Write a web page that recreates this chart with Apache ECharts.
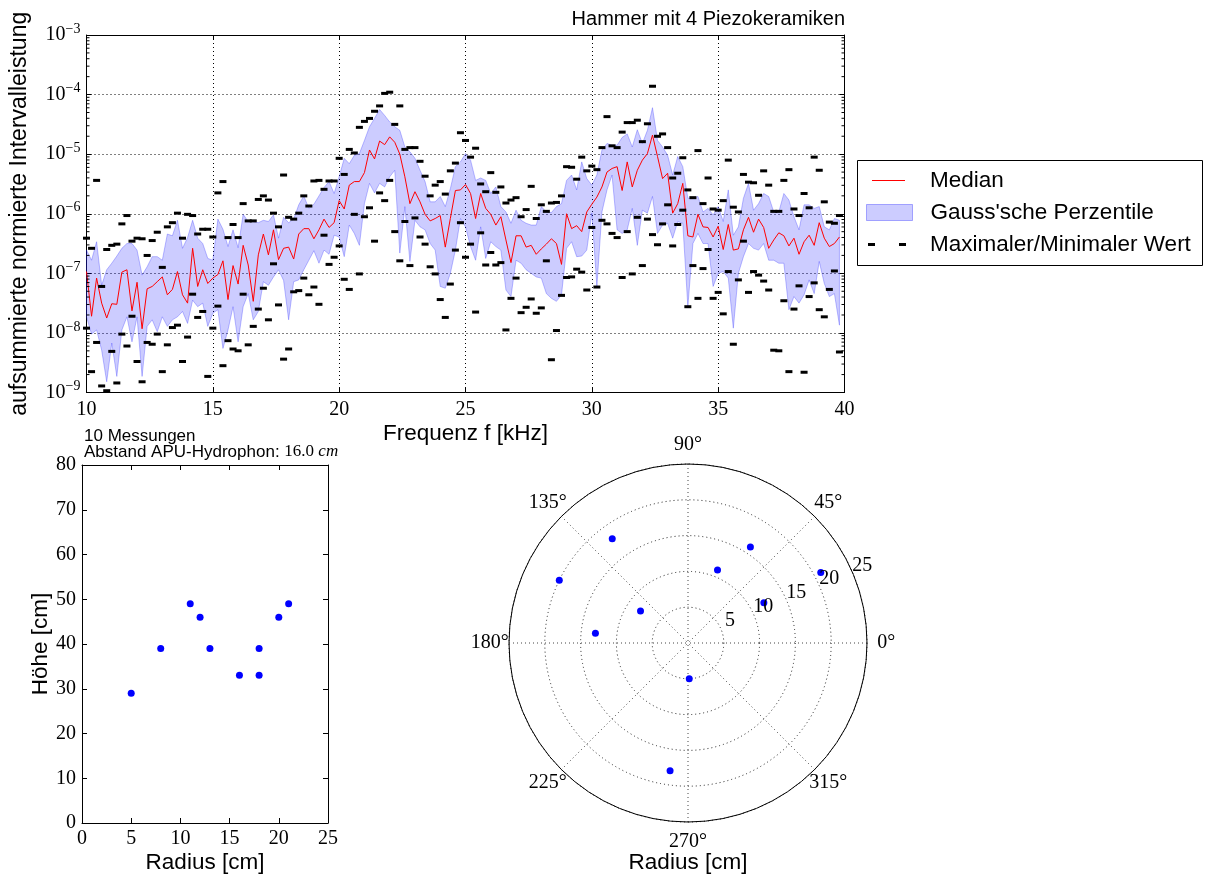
<!DOCTYPE html>
<html>
<head>
<meta charset="utf-8">
<title>Hammer mit 4 Piezokeramiken</title>
<script src="https://cdn.jsdelivr.net/npm/echarts@6.0.0/dist/echarts.min.js"></script>
<style>
  html, body { margin: 0; padding: 0; background: #fff; }
  #chart { width: 1205px; height: 880px; }
</style>
</head>
<body>
<div id="chart"></div>
<script>
const SANS = 'Liberation Sans';
const SERIF = 'Liberation Serif';

// frequency grid of the spectrum [kHz]
const freqKHz = [
  10.0, 10.2, 10.4, 10.6, 10.8, 11.0, 11.2, 11.4, 11.6, 11.8,
  12.0, 12.2, 12.4, 12.6, 12.8, 13.0, 13.2, 13.4, 13.6, 13.8,
  14.0, 14.2, 14.4, 14.6, 14.8, 15.0, 15.2, 15.4, 15.6, 15.8,
  16.0, 16.2, 16.4, 16.6, 16.8, 17.0, 17.2, 17.4, 17.6, 17.8,
  18.0, 18.2, 18.4, 18.6, 18.8, 19.0, 19.2, 19.4, 19.6, 19.8,
  20.0, 20.2, 20.4, 20.6, 20.8, 21.0, 21.2, 21.4, 21.6, 21.8,
  22.0, 22.2, 22.4, 22.6, 22.8, 23.0, 23.2, 23.4, 23.6, 23.8,
  24.0, 24.2, 24.4, 24.6, 24.8, 25.0, 25.2, 25.4, 25.6, 25.8,
  26.0, 26.2, 26.4, 26.6, 26.8, 27.0, 27.2, 27.4, 27.6, 27.8,
  28.0, 28.2, 28.4, 28.6, 28.8, 29.0, 29.2, 29.4, 29.6, 29.8,
  30.0, 30.2, 30.4, 30.6, 30.8, 31.0, 31.2, 31.4, 31.6, 31.8,
  32.0, 32.2, 32.4, 32.6, 32.8, 33.0, 33.2, 33.4, 33.6, 33.8,
  34.0, 34.2, 34.4, 34.6, 34.8, 35.0, 35.2, 35.4, 35.6, 35.8,
  36.0, 36.2, 36.4, 36.6, 36.8, 37.0, 37.2, 37.4, 37.6, 37.8,
  38.0, 38.2, 38.4, 38.6, 38.8, 39.0, 39.2, 39.4, 39.6, 39.8
];

// all power values as log10 (the axis shows 10^n)
const medianLog = [
  -6.97, -7.72, -7.08, -7.50, -7.75, -7.51, -7.52, -6.98, -6.94, -7.63,
  -7.15, -7.93, -7.26, -7.22, -7.14, -7.06, -7.36, -7.27, -6.97, -7.36,
  -7.50, -6.58, -7.22, -6.94, -7.17, -7.08, -7.02, -6.79, -7.44, -6.87,
  -7.18, -6.53, -6.86, -7.47, -6.69, -6.34, -6.69, -6.27, -6.77, -6.58,
  -6.56, -6.76, -6.34, -6.25, -6.25, -6.42, -6.27, -6.09, -6.23, -6.15,
  -5.78, -5.92, -5.52, -5.46, -5.46, -5.31, -4.93, -5.08, -4.78, -4.84,
  -4.71, -4.80, -5.00, -5.38, -5.83, -5.63, -5.80, -6.01, -6.12, -6.08,
  -6.03, -6.56, -6.08, -5.61, -5.60, -5.51, -5.66, -6.08, -5.66, -5.91,
  -6.01, -6.19, -6.05, -6.44, -6.82, -6.37, -6.37, -6.56, -6.53, -6.68,
  -6.59, -6.51, -6.42, -6.50, -6.85, -6.00, -6.25, -6.20, -6.30, -5.97,
  -5.84, -5.72, -5.55, -5.30, -5.24, -5.21, -5.61, -5.13, -5.55, -5.27,
  -5.10, -4.99, -4.68, -5.04, -5.41, -5.32, -5.99, -5.83, -5.49, -6.37,
  -6.39, -6.01, -6.22, -6.23, -6.39, -6.21, -6.60, -6.18, -6.61, -6.59,
  -6.27, -6.06, -6.31, -6.09, -6.23, -6.58, -6.44, -6.32, -6.37, -6.54,
  -6.41, -6.68, -6.47, -6.36, -6.53, -6.15, -6.41, -6.55, -6.50, -6.39
];

const bandUpperLog = [
  -6.61, -6.78, -6.47, -7.20, -6.94, -6.83, -6.71, -6.58, -6.50, -6.50,
  -6.61, -7.03, -6.89, -6.72, -6.72, -6.78, -6.34, -6.37, -6.11, -6.58,
  -6.40, -6.11, -6.41, -6.50, -6.75, -6.78, -6.09, -6.26, -6.55, -6.27,
  -6.57, -6.01, -6.13, -6.13, -6.15, -6.11, -6.13, -6.02, -6.41, -6.06,
  -6.15, -6.09, -5.85, -5.70, -5.91, -5.84, -5.70, -5.56, -5.46, -5.66,
  -5.38, -5.07, -5.16, -5.02, -4.99, -4.77, -4.54, -4.40, -4.25, -4.35,
  -4.46, -4.54, -4.60, -4.88, -4.96, -5.07, -5.27, -5.46, -5.80, -5.80,
  -5.71, -5.88, -5.58, -5.21, -5.13, -4.99, -5.10, -5.44, -5.40, -5.44,
  -5.66, -5.55, -5.88, -5.97, -6.16, -5.94, -6.11, -6.16, -6.19, -6.19,
  -5.88, -5.97, -5.98, -5.88, -5.83, -5.44, -5.35, -5.60, -5.13, -5.41,
  -5.52, -5.35, -4.93, -4.82, -4.85, -4.85, -4.72, -4.66, -4.88, -4.59,
  -4.82, -4.60, -4.22, -4.77, -4.88, -5.02, -5.35, -5.04, -5.21, -5.74,
  -5.74, -5.71, -5.97, -5.91, -6.02, -5.88, -6.13, -5.60, -6.36, -6.22,
  -5.74, -5.49, -5.94, -5.83, -5.66, -5.71, -5.97, -5.97, -5.66, -5.77,
  -6.05, -6.27, -5.85, -5.85, -5.91, -5.88, -6.22, -6.27, -6.08, -6.11
];

const bandLowerLog = [
  -7.73, -8.02, -7.95, -8.29, -8.82, -8.17, -8.73, -7.95, -7.73, -8.15,
  -7.73, -8.73, -7.89, -7.78, -7.98, -7.73, -7.89, -7.78, -7.73, -7.64,
  -7.84, -7.45, -7.56, -7.50, -7.89, -7.67, -7.61, -8.26, -7.95, -7.56,
  -8.15, -7.56, -7.34, -7.78, -7.64, -7.14, -7.20, -7.06, -6.94, -7.12,
  -7.78, -7.14, -7.11, -6.94, -6.78, -6.62, -6.83, -6.61, -6.68, -6.36,
  -6.39, -6.72, -6.19, -6.33, -6.53, -5.83, -5.49, -5.65, -5.49, -5.55,
  -5.38, -5.27, -6.66, -5.88, -6.80, -6.11, -6.22, -6.27, -6.50, -6.61,
  -7.22, -7.25, -7.00, -6.61, -6.08, -6.22, -6.55, -6.78, -6.22, -6.75,
  -6.47, -6.55, -6.61, -7.28, -7.39, -6.78, -6.83, -6.94, -7.00, -7.06,
  -7.08, -7.34, -7.42, -7.47, -7.36, -6.58, -6.47, -6.72, -6.71, -6.61,
  -5.99, -7.22, -5.97, -5.60, -5.35, -6.27, -6.33, -6.27, -5.91, -6.53,
  -5.94, -5.99, -5.71, -6.33, -6.19, -6.16, -6.41, -6.13, -6.16, -7.56,
  -6.50, -6.33, -6.50, -6.50, -7.22, -7.00, -6.97, -7.08, -7.92, -7.00,
  -6.72, -6.50, -6.58, -6.61, -6.50, -6.78, -6.78, -6.83, -6.83, -7.61,
  -7.39, -7.50, -7.36, -7.11, -7.34, -6.80, -7.17, -7.39, -7.34, -7.87
];

const maxLog = [
  -6.41, -6.58, -5.44, -7.22, -6.60, -6.53, -6.51, -6.17, -6.03, -6.46,
  -6.41, -6.42, -6.70, -6.45, -6.31, -6.90, -6.22, -6.15, -5.99, -6.41,
  -6.01, -6.03, -6.34, -6.26, -6.26, -6.39, -5.65, -5.46, -6.40, -6.18,
  -6.40, -5.83, -6.12, -6.12, -5.76, -5.70, -5.77, -5.99, -6.22, -5.35,
  -6.06, -6.09, -5.99, -5.70, -5.87, -5.45, -5.44, -5.59, -5.45, -5.45,
  -5.07, -5.34, -4.92, -4.98, -4.55, -4.45, -4.40, -4.28, -4.19, -3.98,
  -3.96, -4.50, -4.19, -4.92, -4.89, -4.89, -5.12, -5.37, -5.70, -5.52,
  -5.46, -5.67, -5.28, -5.15, -4.64, -4.77, -5.05, -4.90, -5.50, -5.63,
  -5.31, -5.64, -5.55, -5.82, -5.77, -5.73, -6.05, -5.93, -5.54, -6.08,
  -5.85, -5.96, -5.82, -5.81, -5.70, -5.21, -5.22, -5.42, -5.05, -5.28,
  -5.20, -5.26, -4.89, -4.37, -4.86, -4.89, -4.63, -4.47, -4.47, -4.43,
  -4.79, -4.49, -3.86, -4.70, -4.66, -4.89, -5.40, -5.32, -5.06, -5.60,
  -5.73, -4.94, -5.83, -5.40, -5.92, -5.94, -5.78, -5.10, -5.89, -5.97,
  -5.34, -5.47, -5.48, -5.69, -5.28, -5.52, -5.96, -5.96, -5.44, -5.26,
  -5.92, -6.03, -5.66, -5.90, -5.05, -5.27, -5.80, -6.14, -6.16, -6.03
];

const minLog = [
  -7.92, -8.65, -8.16, -8.89, -8.97, -8.31, -8.84, -8.02, -8.22, -7.72,
  -8.48, -8.82, -8.16, -8.19, -8.02, -8.65, -8.20, -7.91, -7.87, -8.48,
  -8.07, -7.35, -7.74, -7.64, -8.73, -7.92, -7.55, -8.55, -8.13, -8.27,
  -8.30, -7.35, -8.20, -7.89, -7.60, -7.25, -7.78, -6.84, -7.53, -8.44,
  -8.27, -7.31, -7.29, -7.08, -7.36, -7.23, -7.52, -6.36, -6.85, -6.73,
  -6.54, -7.10, -7.27, -6.01, -7.01, -6.05, -5.90, -6.46, -5.65, -5.78,
  -5.44, -6.30, -6.79, -6.13, -6.87, -6.07, -6.39, -6.51, -6.89, -7.01,
  -7.44, -7.74, -7.18, -6.61, -6.15, -6.73, -6.51, -7.65, -6.32, -6.86,
  -6.65, -6.86, -6.82, -7.95, -7.42, -7.08, -7.66, -7.57, -7.43, -7.67,
  -7.58, -6.79, -8.45, -7.96, -7.37, -7.07, -7.06, -6.93, -6.98, -7.28,
  -6.23, -7.23, -6.11, -6.17, -6.33, -6.40, -7.07, -6.30, -7.01, -6.06,
  -6.87, -6.09, -6.35, -6.52, -6.17, -5.85, -6.54, -6.18, -5.94, -7.56,
  -6.87, -7.42, -6.92, -6.60, -7.42, -7.32, -7.68, -6.97, -8.19, -7.11,
  -6.46, -7.32, -6.97, -7.03, -7.13, -7.28, -8.29, -8.30, -7.46, -8.65,
  -7.60, -7.21, -8.66, -7.39, -7.16, -7.61, -7.73, -7.27, -6.96, -8.32
];

// measurement positions
const posRadius = [5, 8, 11, 12, 13, 16, 18, 18, 20, 21];
const posHeight = [29, 39, 49, 46, 39, 33, 39, 33, 46, 49];
const posAngle = [272, 146, 68, 28, 174, 57, 126, 262, 154, 28];

// tick labels
const decades = [-9, -8, -7, -6, -5, -4];
const minorMultiples = [2, 3, 4, 5, 6, 7, 8, 9];
const radialTicks = [5, 10, 15, 20, 25];
const radialLabelAngle = 22.5;
const angleTicks = [0, 45, 90, 135, 180, 225, 270, 315];
const angleLabelRadius = 27.7; // just outside the outer circle (r = 25)

const pairs = ys => freqKHz.map((f, i) => [f, ys[i]]);
const bandData = freqKHz.map((f, i) => [f, bandLowerLog[i], bandUpperLog[i]]);
const minorTicks = [];
decades.forEach(d => minorMultiples.forEach(m => minorTicks.push([10, d + Math.log10(m)])));

const black = '#000';
const axisLine = { show: true, onZero: false, lineStyle: { color: black, width: 1 } };
const axisTick = { show: true, inside: true, length: 5, lineStyle: { color: black, width: 1 } };
const serifLabel = { fontFamily: SERIF, fontSize: 20, color: black };
const nameStyle = { fontFamily: SANS, fontSize: 22.5, color: black };
const dotted = { show: true, lineStyle: { color: black, width: 1, type: [1, 3] } };
const noLabel = { show: false };
const noSplit = { show: false };
const legendText = { fontFamily: SANS, fontSize: 22.5, color: black, lineHeight: 22 };

let chart = echarts.init(document.getElementById('chart'));

let option = {
  animation: false,
  backgroundColor: '#fff',
  title: [
    {
      text: 'Hammer mit 4 Piezokeramiken',
      right: 360, top: 9, padding: 0,
      textStyle: { fontFamily: SANS, fontSize: 20, fontWeight: 'normal', color: black }
    },
    {
      text: '10 Messungen\nAbstand APU-Hydrophon: {m|16.0}{i| cm}',
      left: 84, top: 428, padding: 0,
      textStyle: {
        fontFamily: SANS, fontSize: 17, fontWeight: 'normal', color: black, lineHeight: 16,
        rich: {
          m: { fontFamily: SERIF, fontSize: 17, lineHeight: 16, color: black },
          i: { fontFamily: SERIF, fontSize: 17, fontStyle: 'italic', lineHeight: 16, color: black }
        }
      }
    },
    {
      text: 'Radius [cm]',
      left: 688, top: 851, textAlign: 'center', padding: 0,
      textStyle: { fontFamily: SANS, fontSize: 22.5, fontWeight: 'normal', color: black }
    }
  ],
  legend: [
    {
      data: [{ name: 'Median', icon: 'path://M0,0H33V1.2H0Z', itemStyle: { color: '#ff0000', borderWidth: 0 } }],
      left: 872, top: 169, itemWidth: 33, itemHeight: 16, padding: 0,
      selectedMode: false, textStyle: { ...legendText, padding: [0, 0, 0, 20] }
    },
    {
      data: [{ name: "Gauss'sche Perzentile", icon: 'rect',
               itemStyle: { color: 'rgba(0,0,255,0.2)', borderColor: 'rgba(0,0,255,0.3)', borderWidth: 1 } }],
      left: 866, top: 201, itemWidth: 46, itemHeight: 16, padding: 0,
      selectedMode: false, textStyle: { ...legendText, padding: [0, 0, 0, 13] }
    },
    {
      data: [{ name: 'Maximaler/Minimaler Wert', icon: 'path://M0,0H7V3H0Z M31,0H38V3H31Z',
               itemStyle: { color: black, borderWidth: 0 } }],
      left: 868, top: 233, itemWidth: 38, itemHeight: 16, padding: 0,
      selectedMode: false, textStyle: { ...legendText, padding: [0, 0, 0, 19] }
    }
  ],
  graphic: [
    { type: 'rect', z: 0, shape: { x: 857.5, y: 160.5, width: 345, height: 105 },
      style: { fill: '#fff', stroke: black, lineWidth: 1 } }
  ],
  grid: [
    { left: 86.5, top: 35, width: 758, height: 357.5 },
    { left: 82, top: 465, width: 246, height: 358 }
  ],
  xAxis: [
    {
      gridIndex: 0, type: 'value', min: 10, max: 40, interval: 5,
      axisLine, axisTick, splitLine: dotted,
      axisLabel: { ...serifLabel, margin: 7 },
      name: 'Frequenz f [kHz]', nameLocation: 'middle', nameGap: 30, nameTextStyle: nameStyle
    },
    {
      gridIndex: 0, type: 'value', position: 'top', min: 10, max: 40, interval: 5,
      axisLine, axisTick, axisLabel: noLabel, splitLine: noSplit
    },
    {
      gridIndex: 1, type: 'value', min: 0, max: 25, interval: 5,
      axisLine, axisTick, splitLine: noSplit,
      axisLabel: { ...serifLabel, margin: 6 },
      name: 'Radius [cm]', nameLocation: 'middle', nameGap: 28, nameTextStyle: nameStyle
    },
    {
      gridIndex: 1, type: 'value', position: 'top', min: 0, max: 25, interval: 5,
      axisLine, axisTick, axisLabel: noLabel, splitLine: noSplit
    }
  ],
  yAxis: [
    {
      gridIndex: 0, type: 'value', min: -9, max: -3, interval: 1,
      axisLine, axisTick, splitLine: dotted,
      axisLabel: {
        margin: 6,
        formatter: v => '{b|10}{e|\u2212' + Math.abs(Math.round(v)) + '}',
        rich: {
          b: { fontFamily: SERIF, fontSize: 20, color: black },
          e: { fontFamily: SERIF, fontSize: 14, color: black, padding: [0, 0, 12, 0] }
        }
      },
      name: 'aufsummierte normierte Intervalleistung', nameLocation: 'middle', nameGap: 55,
      nameTextStyle: { ...nameStyle, fontSize: 23 }
    },
    {
      gridIndex: 0, type: 'value', position: 'right', min: -9, max: -3, interval: 1,
      axisLine, axisTick, axisLabel: noLabel, splitLine: noSplit
    },
    {
      gridIndex: 1, type: 'value', min: 0, max: 80, interval: 10,
      axisLine, axisTick, splitLine: noSplit,
      axisLabel: { ...serifLabel, margin: 6 },
      name: 'Höhe [cm]', nameLocation: 'middle', nameGap: 30, nameTextStyle: nameStyle
    },
    {
      gridIndex: 1, type: 'value', position: 'right', min: 0, max: 80, interval: 10,
      axisLine, axisTick, axisLabel: noLabel, splitLine: noSplit
    }
  ],
  polar: [{ center: [688, 643], radius: 179 }],
  angleAxis: {
    polarIndex: 0, type: 'value', min: 0, max: 360, interval: 45,
    startAngle: 0, clockwise: false,
    axisLine: { show: true, lineStyle: { color: black, width: 1 } },
    axisTick: { show: false },
    axisLabel: { show: false },
    splitLine: { show: true, lineStyle: { color: '#444', width: 1, type: [1, 3] } }
  },
  radiusAxis: {
    polarIndex: 0, type: 'value', min: 0, max: 25, interval: 5,
    axisLine: { show: false }, axisTick: { show: false }, axisLabel: { show: false },
    splitLine: { show: true, lineStyle: { color: '#222', width: 1, type: [1, 3] } }
  },
  series: [
    {
      // percentile band drawn as one polygon between lower and upper curves
      name: "Gauss'sche Perzentile", type: 'custom', xAxisIndex: 0, yAxisIndex: 0,
      silent: true, z: 2, encode: { x: 0, y: [1, 2] }, data: bandData,
      renderItem: (params, api) => {
        if (params.dataIndex !== 0) return null;
        const upper = bandData.map(d => api.coord([d[0], d[2]]));
        const lower = bandData.map(d => api.coord([d[0], d[1]])).reverse();
        return {
          type: 'polygon',
          shape: { points: upper.concat(lower) },
          style: { fill: 'rgba(0,0,255,0.2)', stroke: 'rgba(40,40,255,0.3)', lineWidth: 1 }
        };
      }
    },
    {
      name: 'Median', type: 'line', xAxisIndex: 0, yAxisIndex: 0,
      data: pairs(medianLog), symbol: 'none', z: 3,
      lineStyle: { color: '#ff0000', width: 1 }
    },
    {
      name: 'Maximaler/Minimaler Wert', type: 'scatter', xAxisIndex: 0, yAxisIndex: 0,
      data: pairs(maxLog).concat(pairs(minLog)),
      symbol: 'rect', symbolSize: [7, 3], z: 4,
      itemStyle: { color: black, opacity: 1 }
    },
    {
      // log-scale minor ticks on left and right frame
      type: 'custom', xAxisIndex: 0, yAxisIndex: 0, silent: true, z: 5,
      encode: { x: 0, y: 1 }, data: minorTicks,
      renderItem: (params, api) => {
        const v = api.value(1);
        const l = api.coord([10, v]);
        const r = api.coord([40, v]);
        return {
          type: 'group',
          children: [
            { type: 'line', shape: { x1: l[0], y1: l[1], x2: l[0] + 3, y2: l[1] }, style: { stroke: black, lineWidth: 1 } },
            { type: 'line', shape: { x1: r[0] - 3, y1: r[1], x2: r[0], y2: r[1] }, style: { stroke: black, lineWidth: 1 } }
          ]
        };
      }
    },
    {
      type: 'scatter', xAxisIndex: 2, yAxisIndex: 2,
      data: posRadius.map((r, i) => [r, posHeight[i]]),
      symbolSize: 7, itemStyle: { color: '#0000ff', opacity: 1 }
    },
    {
      type: 'scatter', coordinateSystem: 'polar', polarIndex: 0,
      data: posRadius.map((r, i) => [r, posAngle[i]]),
      symbolSize: 7, itemStyle: { color: '#0000ff', opacity: 1 }, z: 4
    },
    {
      // radial tick labels along 22.5°
      type: 'scatter', coordinateSystem: 'polar', polarIndex: 0, silent: true,
      data: radialTicks.map(r => [r, radialLabelAngle]),
      symbolSize: 0, z: 5, itemStyle: { opacity: 1 },
      label: {
        show: true, position: 'top', distance: 0, offset: [9, 1],
        formatter: p => String(p.value[0]),
        ...serifLabel
      }
    },
    {
      // angle tick labels centred just outside the circle
      type: 'scatter', coordinateSystem: 'polar', polarIndex: 0, silent: true, clip: false,
      data: angleTicks.map(a => [angleLabelRadius, a]),
      symbolSize: 0, z: 5, itemStyle: { opacity: 1 },
      label: {
        show: true, position: 'inside',
        formatter: p => p.value[1] + '\u00b0',
        ...serifLabel
      }
    }
  ]
};

chart.setOption(option);
</script>
</body>
</html>
